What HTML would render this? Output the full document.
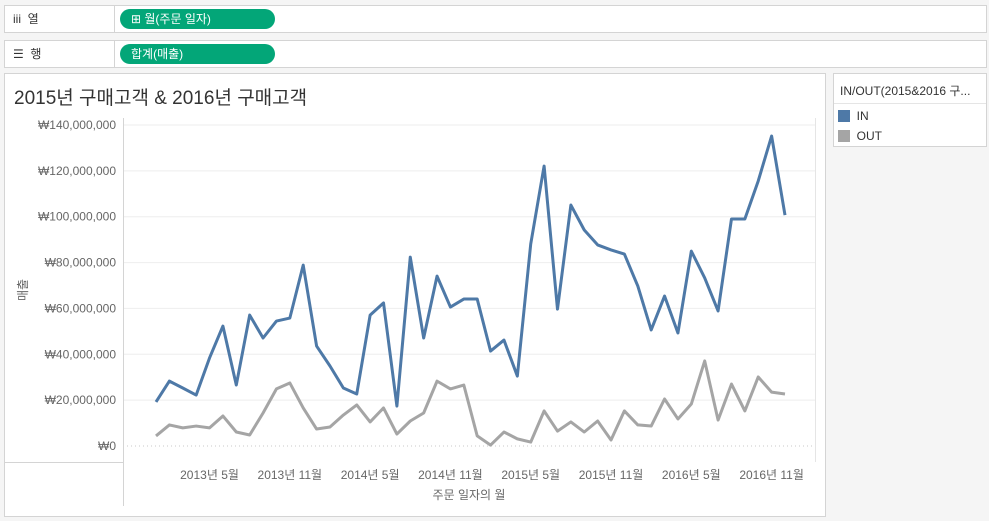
<!DOCTYPE html>
<html><head><meta charset="utf-8">
<style>
body{margin:0;width:989px;height:521px;background:#f5f5f5;font-family:"Liberation Sans","Noto Sans CJK KR",sans-serif;overflow:hidden;position:relative}
.shelf{position:absolute;left:4px;width:983px;height:28px;background:#fff;border:1px solid #d4d4d4;box-sizing:border-box}
.shelf .lab{position:absolute;left:0;top:0;width:110px;height:26px;border-right:1px solid #d4d4d4;font-size:12px;color:#333;line-height:26px;padding-left:8px;box-sizing:border-box}
.pill{position:absolute;left:115px;top:3px;width:155px;height:20px;border-radius:10px;background:#03a678;color:#fff;font-size:12px;line-height:20px;padding-left:11px;box-sizing:border-box}
</style></head><body>
<div class="shelf" style="top:5px">
 <div class="lab">iii&nbsp; 열</div>
 <div class="pill">⊞ 월(주문 일자)</div>
</div>
<div class="shelf" style="top:40px">
 <div class="lab">☰&nbsp; 행</div>
 <div class="pill">합계(매출)</div>
</div>
<div style="position:absolute;left:4px;top:73px;width:822px;height:444px;background:#fff;border:1px solid #d4d4d4;box-sizing:border-box"></div>
<div style="position:absolute;left:833px;top:73px;width:154px;height:74px;background:#fff;border:1px solid #d4d4d4;box-sizing:border-box;font-size:12px;color:#333">
 <div style="position:absolute;left:6px;top:8px;white-space:nowrap">IN/OUT(2015&amp;2016 구...</div>
 <div style="position:absolute;left:0;top:29px;width:152px;height:1px;background:#e5e5e5"></div>
 <div style="position:absolute;left:4px;top:35px"><span style="display:inline-block;width:12px;height:12px;background:#4e79a7;vertical-align:-2px"></span>&nbsp; IN</div>
 <div style="position:absolute;left:4px;top:55px"><span style="display:inline-block;width:12px;height:12px;background:#a5a5a5;vertical-align:-2px"></span>&nbsp; OUT</div>
</div>
<svg id="chart" width="989" height="521" style="position:absolute;left:0;top:0"></svg>
<script>
const inVals=[19.2,28.3,25.3,22.2,38.4,52.3,26.6,57.1,47.1,54.5,55.8,78.9,43.6,34.9,25.3,22.7,57.1,62.4,17.4,82.4,47.1,74.1,60.6,64.1,64.1,41.4,46.2,30.5,88.1,122.1,59.7,105.1,94.2,87.7,85.5,83.7,69.8,50.6,65.4,49.3,85.0,73.3,58.9,99.0,99.0,115.6,135.2,100.7];
const outVals=[4.4,9.2,7.9,8.7,7.9,13.1,6.1,4.8,14.4,24.9,27.5,16.6,7.4,8.3,13.5,17.9,10.5,16.6,5.2,10.9,14.4,28.3,24.9,26.6,4.4,0.4,6.1,3.1,1.7,15.3,6.5,10.5,6.1,10.9,2.6,15.3,9.2,8.7,20.5,11.8,18.3,37.1,11.3,27.0,15.3,30.1,23.5,22.7];
const yTicks=[0,20,40,60,80,100,120,140];
const yTickLabels=["₩0","₩20,000,000","₩40,000,000","₩60,000,000","₩80,000,000","₩100,000,000","₩120,000,000","₩140,000,000"];
const xTickIdx=[4,10,16,22,28,34,40,46];
const xTickLabels=["2013년 5월","2013년 11월","2014년 5월","2014년 11월","2015년 5월","2015년 11월","2016년 5월","2016년 11월"];
const svg=document.getElementById('chart');const NS='http://www.w3.org/2000/svg';
const x=i=>156+i*(785-156)/(inVals.length-1);
const y=v=>446-v*(446-125)/140;
function mk(t,a,txt){const e=document.createElementNS(NS,t);for(const k in a)e.setAttribute(k,a[k]);if(txt!=null)e.textContent=txt;svg.appendChild(e);return e;}
const title=mk('text',{x:14,y:104,'font-size':19,fill:'#333'},'2015년 구매고객 & 2016년 구매고객');


yTicks.forEach((t,k)=>{
 const g=mk('line',{x1:123,x2:815,y1:y(t),y2:y(t),stroke:t===0?'#c8c8c8':'#eeeeee','stroke-width':1,'stroke-dasharray':t===0?'1,3':''});
 
 
 const l=mk('text',{x:116,y:y(t)+4,'font-size':12,fill:'#666','text-anchor':'end'},yTickLabels[k]);
 
 
});
mk('line',{x1:123.5,x2:123.5,y1:118,y2:506,stroke:'#d4d4d4'});
mk('line',{x1:4,x2:123,y1:462.5,y2:462.5,stroke:'#d4d4d4'});
mk('line',{x1:815.5,x2:815.5,y1:118,y2:462,stroke:'#e5e5e5'});
xTickIdx.forEach((i,k)=>{
 const l=mk('text',{x:x(i),y:479,'font-size':12,fill:'#666','text-anchor':'middle'},xTickLabels[k]);
 
 
});
const xt=mk('text',{x:469,y:499,'font-size':12,fill:'#666','text-anchor':'middle'},'주문 일자의 월');


const yt=mk('text',{x:0,y:0,'font-size':12,fill:'#666','text-anchor':'middle',transform:'translate(27,290) rotate(-90)'},'매출');


[[outVals,'#a5a5a5','line-out'],[inVals,'#4e79a7','line-in']].forEach(([d,c,n])=>{
 const p=mk('polyline',{points:d.map((v,i)=>x(i)+','+y(v)).join(' '),fill:'none',stroke:c,'stroke-width':3,'stroke-linejoin':'round'});
 
 
});
</script>
</body></html>
